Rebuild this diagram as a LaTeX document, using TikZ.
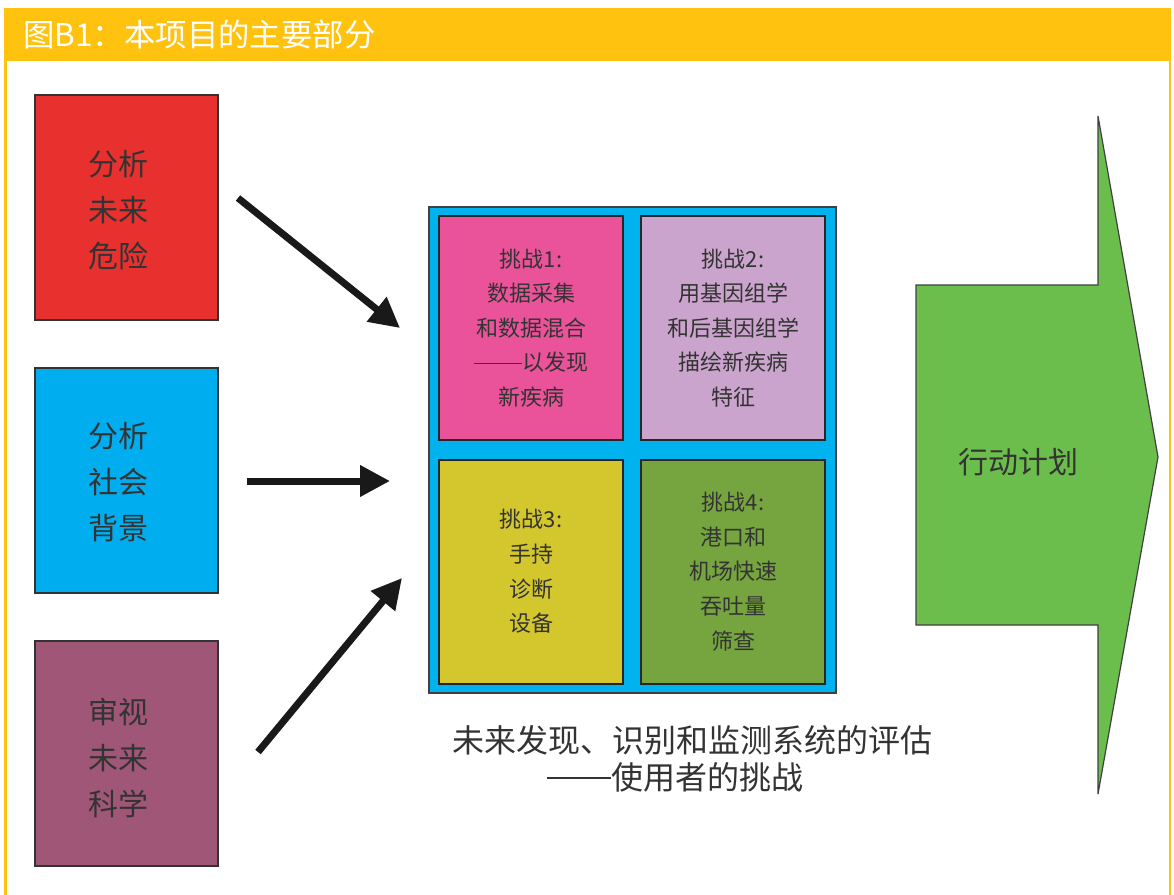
\documentclass[tikz,border=0pt]{standalone}
\usepackage{fontspec}
\setmainfont{Noto Sans CJK SC}
\usetikzlibrary{arrows.meta}
\definecolor{orangebar}{HTML}{FFC20E}
\definecolor{rred}{HTML}{E8312F}
\definecolor{rblue}{HTML}{00AEEF}
\definecolor{rpurple}{HTML}{A05677}
\definecolor{bigcyan}{HTML}{00B2EE}
\definecolor{rpink}{HTML}{EA539A}
\definecolor{rlav}{HTML}{CBA4CD}
\definecolor{ryellow}{HTML}{D3C72D}
\definecolor{rgreen}{HTML}{76A540}
\definecolor{agreen}{HTML}{6CBE4C}
\definecolor{txt}{HTML}{333333}
\newcommand\cjkdash[1]{\rule[0.33em]{#1em}{0.05em}}
\begin{document}
\begin{tikzpicture}[x=0.5pt,y=-0.5pt,
  leftbox/.style={draw=black!80, line width=1pt, inner sep=0pt, minimum width=91.5pt, minimum height=112.5pt},
  lefttext/.style={align=center, text=txt, inner sep=0pt, font=\fontsize{15}{23}\selectfont},
  innerbox/.style={draw=black!85, line width=1pt, inner sep=0pt, minimum width=92pt, minimum height=112pt, align=center, text=txt, font=\fontsize{11}{17.3}\selectfont},
  bigarrow/.style={draw=black!90, line width=3.5pt, -{Triangle[length=15pt,width=15pt]}}]
\useasboundingbox (0,0) rectangle (1174,895);
% frame
\fill[orangebar] (4,8) rectangle (1171,61);
\draw[orangebar, line width=1.5pt] (5.5,8) -- (5.5,895);
\draw[orangebar, line width=1pt] (1169.5,8) -- (1169.5,895);
\node[anchor=west, text=white, font=\fontsize{15.7}{18}\selectfont, inner sep=0pt] (title) at (23,35) {图B1：本项目的主要部分};
% left boxes
\node[leftbox, fill=rred] (risk) at (126.5,207.5) {};
\node[lefttext] (risk-t) at (118,210) {分析\\未来\\危险};
\node[leftbox, fill=rblue] (social) at (126.5,480.5) {};
\node[lefttext] (social-t) at (118,482) {分析\\社会\\背景};
\node[leftbox, fill=rpurple] (science) at (126.5,753.5) {};
\node[lefttext] (science-t) at (118,758) {审视\\未来\\科学};
% center box
\node[draw=black!75, line width=1pt, fill=bigcyan, minimum width=203.5pt, minimum height=243pt, inner sep=0pt] (center) at (632.5,450) {};
\node[innerbox, fill=rpink] (c1) at (531,328) {挑战1:\\数据采集\\和数据混合\\\cjkdash{2.2}以发现\\新疾病};
\node[innerbox, fill=rlav] (c2) at (733,328) {挑战2:\\用基因组学\\和后基因组学\\描绘新疾病\\特征};
\node[innerbox, fill=ryellow] (c3) at (531,571.5) {挑战3:\\手持\\诊断\\设备};
\node[innerbox, fill=rgreen] (c4) at (733,571.5) {挑战4:\\港口和\\机场快速\\吞吐量\\筛查};
% caption
\node[align=center, text=txt, font=\fontsize{16}{18.5}\selectfont] (caption) at (692,759) {未来发现、识别和监测系统的评估\\\cjkdash{2}使用者的挑战\hspace*{1.06em}};
% arrows
\coordinate (a1s) at (238,198);
\coordinate (a1e) at (400,328);
\coordinate (a2s) at (247,481);
\coordinate (a2e) at (390,481);
\coordinate (a3s) at (258,752);
\coordinate (a3e) at (402,578);
\draw[bigarrow] (a1s) -- (a1e);
\draw[bigarrow] (a2s) -- (a2e);
\draw[bigarrow] (a3s) -- (a3e);
% action plan arrow
\draw[fill=agreen, draw=black!75, line width=0.6pt] (916,285) -- (1098,285) -- (1098,116) -- (1158,457) -- (1098,794) -- (1098,625) -- (916,625) -- cycle;
\node[text=txt, font=\fontsize{15}{18}\selectfont] (plan) at (1018,462) {行动计划};
\end{tikzpicture}
\end{document}
